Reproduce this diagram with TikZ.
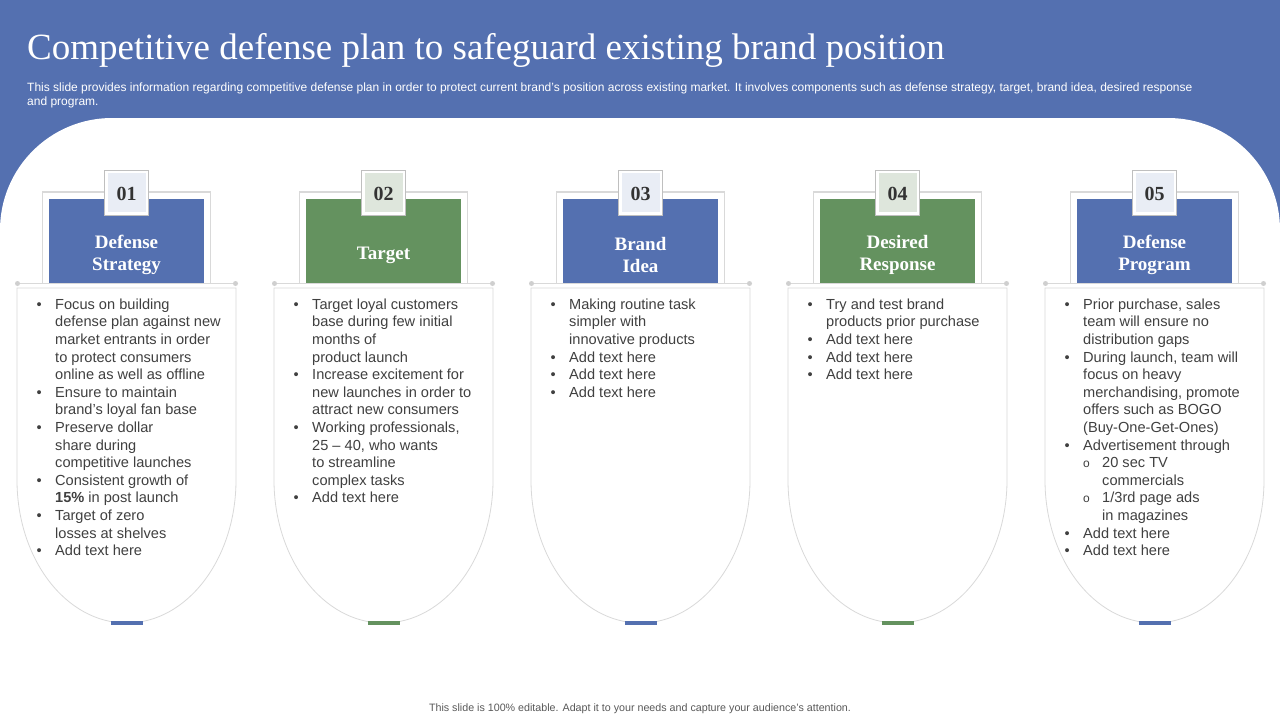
\documentclass[tikz,border=0pt]{standalone}
\usepackage{fontspec}
\setmainfont{Liberation Sans}
\newfontfamily\seriffont{Liberation Serif}
\definecolor{hdr}{HTML}{5470B0}
\definecolor{grn}{HTML}{64925F}
\definecolor{lblue}{HTML}{E9EDF5}
\definecolor{lgrn}{HTML}{DEE6DC}
\definecolor{txtgrey}{HTML}{404040}
\definecolor{lineg}{HTML}{D9D9D9}
\definecolor{dotg}{HTML}{CFCFCF}
\definecolor{numline}{HTML}{BFBFBF}
\definecolor{footg}{HTML}{595959}
\newcommand\bi{\makebox[17pt][l]{\hspace{-1.5pt}•}}
\newcommand\ind{\hspace*{17pt}}
\newcommand\sbi{\hspace*{17pt}\makebox[19pt][l]{\fontsize{12}{12}\selectfont o}}
\newcommand\sind{\hspace*{36pt}}
\newcommand\pcol[6]{%
\begin{scope}[shift={(#2,0)}]
  \draw[frameline] (-84,283.5) -- (-84,192) -- (84,192) -- (84,283.5);
  \coordinate (#1l) at (-109,283.5);
  \coordinate (#1r) at (109,283.5);
  \draw[frameline] (#1l) -- (#1r);
  \fill[dotg] (#1l) circle (2.5);
  \fill[dotg] (#1r) circle (2.5);
  \draw[shieldline] (-109.5,288) -- (-109.5,480)
     .. controls (-109.5,559) and (-60.5,623) .. (0,623)
     .. controls (60.5,623) and (109.5,559) .. (109.5,480) -- (109.5,288) -- cycle;
  \node[barbox, fill=#3] (#1b) at (0,622.5) {};
  \node[headbox, fill=#3] (#1h) at (-0.5,241) {};
  \node[headtext] (#1t) at (0,255) {#6};
  \node[numbox, path picture={\fill[#4] ([shift={(3pt,3pt)}]path picture bounding box.south west) rectangle ([shift={(-3pt,-3pt)}]path picture bounding box.north east);}] (#1n) at (0,192.5) {#5};
\end{scope}}
\begin{document}
\begin{tikzpicture}[x=1pt,y=-1pt,
  frameline/.style={draw=lineg, line width=1.5pt},
  shieldline/.style={draw=lineg, line width=0.8pt, fill=white},
  barbox/.style={inner sep=0, minimum width=32pt, minimum height=4pt},
  headbox/.style={inner sep=0, minimum width=155pt, minimum height=84pt},
  headtext/.style={text=white, align=center, font=\seriffont\bfseries\fontsize{19}{22}\selectfont},
  numbox/.style={draw=numline, line width=0.8pt, fill=white, inner sep=0, minimum width=44pt, minimum height=45pt, text height=16.5pt, text depth=0pt, text=black!80, font=\seriffont\bfseries\fontsize{20}{24}\selectfont},
  bul/.style={anchor=north west, align=left, inner sep=0, text=txtgrey, font=\fontsize{14.6}{17.6}\selectfont}]
\useasboundingbox (0,0) rectangle (1280,720);
\fill[hdr] (0,0) rectangle (1280,720);
\fill[white, rounded corners=112pt] (0,118) rectangle (1280,900);
\node[anchor=base west, inner sep=0, text=white, font=\seriffont\fontsize{37}{40}\selectfont] (title) at (27,59) {Competitive defense plan to safeguard existing brand position};
\node[anchor=base west, inner sep=0, text=white, font=\fontsize{12}{14}\selectfont] (sub1) at (27,91) {This slide provides information regarding competitive defense plan in order to protect current brand’s position across existing market. It involves components such as defense strategy, target, brand idea, desired response};
\node[anchor=base west, inner sep=0, text=white, font=\fontsize{12}{14}\selectfont] (sub2) at (27,105) {and program.};
\pcol{a}{126.5}{hdr}{lblue}{01}{Defense\\Strategy}
\pcol{b}{383.5}{grn}{lgrn}{02}{Target}
\pcol{c}{640.5}{hdr}{lblue}{03}{Brand\\Idea}
\pcol{d}{897.5}{grn}{lgrn}{04}{Desired\\Response}
\pcol{e}{1154.5}{hdr}{lblue}{05}{Defense\\Program}
\node[bul] (ta) at (38,298.5) {\bi Focus on building\\\ind defense plan against new\\\ind market entrants in order\\\ind to protect consumers\\\ind online as well as offline\\\bi Ensure to maintain\\\ind brand’s loyal fan base\\\bi Preserve dollar\\\ind share during\\\ind competitive launches\\\bi Consistent growth of\\\ind \textbf{15\%} in post launch\\\bi Target of zero\\\ind losses at shelves\\\bi Add text here};
\node[bul] (tb) at (295,298.5) {\bi Target loyal customers\\\ind base during few initial\\\ind months of\\\ind product launch\\\bi Increase excitement for\\\ind new launches in order to\\\ind attract new consumers\\\bi Working professionals,\\\ind 25 – 40, who wants\\\ind to streamline\\\ind complex tasks\\\bi Add text here};
\node[bul] (tc) at (552,298.5) {\bi Making routine task\\\ind simpler with\\\ind innovative products\\\bi Add text here\\\bi Add text here\\\bi Add text here};
\node[bul] (td) at (809,298.5) {\bi Try and test brand\\\ind products prior purchase\\\bi Add text here\\\bi Add text here\\\bi Add text here};
\node[bul] (te) at (1066,298.5) {\bi Prior purchase, sales\\\ind team will ensure no\\\ind distribution gaps\\\bi During launch, team will\\\ind focus on heavy\\\ind merchandising, promote\\\ind offers such as BOGO\\\ind (Buy-One-Get-Ones)\\\bi Advertisement through\\\sbi 20 sec TV\\\sind commercials\\\sbi 1/3rd page ads\\\sind in magazines\\\bi Add text here\\\bi Add text here};
\node[anchor=base, inner sep=0, text=footg, font=\fontsize{10.7}{12}\selectfont] (foot) at (640,711) {This slide is 100\% editable. Adapt it to your needs and capture your audience’s attention.};
\end{tikzpicture}
\end{document}
